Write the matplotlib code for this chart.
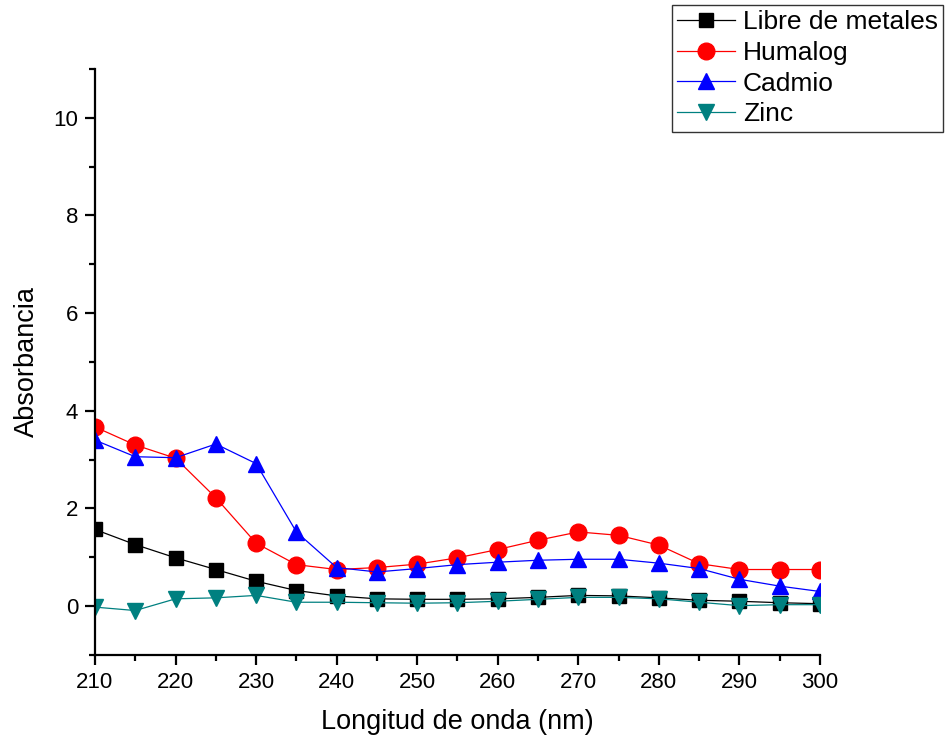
import numpy as np
import matplotlib.pyplot as plt
from matplotlib.ticker import MultipleLocator

plt.rcParams['font.family'] = ['Liberation Sans', 'DejaVu Sans']

# Datos
longitud = [210, 215, 220, 225, 230, 235, 240, 245, 250, 255,
            260, 265, 270, 275, 280, 285, 290, 295, 300]
libre = [1.57, 1.26, 0.99, 0.75, 0.51, 0.32, 0.21, 0.15, 0.14, 0.14,
         0.15, 0.18, 0.22, 0.21, 0.17, 0.12, 0.10, 0.07, 0.05]
humalog = [3.67, 3.30, 3.03, 2.22, 1.29, 0.85, 0.75, 0.79, 0.86, 0.99,
           1.16, 1.35, 1.52, 1.45, 1.25, 0.87, 0.75, 0.75, 0.75]
cadmio = [3.40, 3.06, 3.04, 3.32, 2.92, 1.52, 0.79, 0.70, 0.77, 0.85,
          0.90, 0.94, 0.96, 0.96, 0.88, 0.77, 0.55, 0.41, 0.30]
zinc = [-0.02, -0.09, 0.15, 0.17, 0.22, 0.08, 0.08, 0.07, 0.06, 0.07,
        0.10, 0.14, 0.18, 0.18, 0.15, 0.08, 0.01, 0.03, 0.03]

fig = plt.figure(figsize=(9.46, 7.38), dpi=100)
ax = fig.add_axes([0.1004, 0.1125, 0.7664, 0.794])

ax.plot(longitud, libre, color='black', marker='s', markersize=10, linewidth=0.9, label='Libre de metales')
ax.plot(longitud, humalog, color='#FF0000', marker='o', markersize=12, linewidth=0.9, label='Humalog')
ax.plot(longitud, cadmio, color='#0000FF', marker='^', markersize=12, linewidth=0.9, label='Cadmio')
ax.plot(longitud, zinc, color='#008080', marker='v', markersize=12, linewidth=0.9, label='Zinc')

ax.set_xlim(210, 300)
ax.set_ylim(-1, 11)
ax.xaxis.set_major_locator(MultipleLocator(10))
ax.xaxis.set_minor_locator(MultipleLocator(5))
ax.yaxis.set_major_locator(MultipleLocator(2))
ax.yaxis.set_minor_locator(MultipleLocator(1))

ax.spines['top'].set_visible(False)
ax.spines['right'].set_visible(False)
for s in ['left', 'bottom']:
    ax.spines[s].set_linewidth(1.6)
ax.tick_params(which='major', direction='out', length=7, width=1.6, labelsize=16, pad=5)
ax.tick_params(which='minor', direction='out', length=4, width=1.6)

ax.set_xlabel('Longitud de onda (nm)', fontsize=19.5, labelpad=12)
ax.set_ylabel('Absorbancia', fontsize=19.5, labelpad=10)

leg = fig.legend(loc='upper left', bbox_to_anchor=(0.710, 0.993), fontsize=19,
                 handlelength=2.2, handletextpad=0.3, labelspacing=0.25,
                 borderpad=0.2, borderaxespad=0, frameon=True, fancybox=False)
leg.get_frame().set_edgecolor('black')
leg.get_frame().set_linewidth(1.0)

plt.savefig('out.png', dpi=100)
